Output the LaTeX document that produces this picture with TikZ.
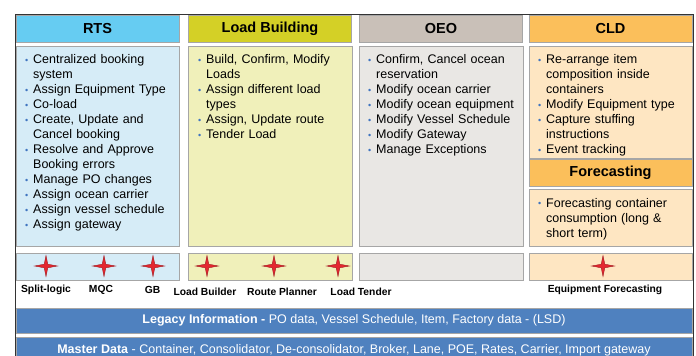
\documentclass[tikz,border=0pt]{standalone}
\usepackage{fontspec}
\setmainfont{Liberation Sans}
\usetikzlibrary{positioning}
\definecolor{rtshead}{HTML}{66CCF2}
\definecolor{rtsbody}{HTML}{D6ECF7}
\definecolor{lbhead}{HTML}{D4D026}
\definecolor{lbbody}{HTML}{F0F0BA}
\definecolor{oeohead}{HTML}{C9C0B8}
\definecolor{oeobody}{HTML}{E9E7E4}
\definecolor{cldhead}{HTML}{FBBF5B}
\definecolor{cldbody}{HTML}{FEE6C2}
\definecolor{barblue}{HTML}{4F81BF}
\definecolor{edgegrey}{HTML}{A6A6A6}
\definecolor{dotblue}{HTML}{3F74C0}
\definecolor{starred}{HTML}{E42730}
\definecolor{stardark}{HTML}{9E1A1F}
\newcommand{\itm}{\par\leftskip=8pt\noindent\llap{\makebox[8pt][l]{\raisebox{0.3pt}{\textcolor{dotblue}{\fontsize{9}{9}\selectfont\textbullet}}}}}
\tikzset{spark/.pic={
  \filldraw[fill=starred,draw=stardark,line width=0.4pt]
    (0,-10.5) -- (1.8,-1.8) -- (11.5,0) -- (1.8,1.8) -- (0,10.5)
    -- (-1.8,1.8) -- (-11.5,0) -- (-1.8,-1.8) -- cycle;}}
\begin{document}
\begin{tikzpicture}[x=1pt,y=-1pt]
    \tikzstyle{head}=[draw=edgegrey, line width=0.8pt, minimum width=163pt, minimum height=27pt, inner sep=0pt, font=\fontsize{14.5}{16}\selectfont\bfseries]
    \tikzstyle{panel}=[draw=edgegrey, line width=0.8pt]
    \tikzstyle{items}=[anchor=north west, inner sep=0pt, text width=165pt, align=left, font=\fontsize{12.5}{15}\selectfont]
    \tikzstyle{tag}=[inner sep=0pt, font=\fontsize{10.3}{12}\selectfont\bfseries]
    \tikzstyle{bar}=[text=white, inner sep=0pt, font=\fontsize{12.5}{15}\selectfont]
    \useasboundingbox (0,0) rectangle (696,356);
    \clip (0,0) rectangle (696,356);
    \fill[white] (0,0) rectangle (696,356);
    \draw[line width=0.9pt, black!80] (15,14) rectangle (693,372);
    % headers
    \node[head, fill=rtshead] (rts) at (97.5,28.5) {RTS};
    \node[head, fill=lbhead] (lb) at (270,28.5) {Load Building};
    \node[head, fill=oeohead] (oeo) at (441,28.5) {OEO};
    \node[head, fill=cldhead] (cld) at (610.5,28.5) {CLD};
    % bodies
    \filldraw[panel, fill=rtsbody] (16,46) rectangle (179,246);
    \filldraw[panel, fill=lbbody] (188,46) rectangle (352,246);
    \filldraw[panel, fill=oeobody] (359,46) rectangle (523,246);
    \filldraw[panel, fill=cldbody] (529,46) rectangle (692,158);
    \node[head, fill=cldhead] (fc) at (610.5,173) {Forecasting};
    \filldraw[panel, fill=cldbody] (529,189) rectangle (692,246);
    \node[items] (rtsl) at (25,48.5) {\itm Centralized booking\newline system
      \itm Assign Equipment Type \itm Co-load
      \itm Create, Update and\newline Cancel booking
      \itm Resolve and Approve\newline Booking errors
      \itm Manage PO changes \itm Assign ocean carrier
      \itm Assign vessel schedule \itm Assign gateway\par};
    \node[items] (lbl) at (198,48.5) {\itm Build, Confirm, Modify\newline Loads
      \itm Assign different load\newline types
      \itm Assign, Update route \itm Tender Load\par};
    \node[items] (oeol) at (368,48.5) {\itm Confirm, Cancel ocean\newline reservation
      \itm Modify ocean carrier \itm Modify ocean equipment
      \itm Modify Vessel Schedule \itm Modify Gateway
      \itm Manage Exceptions\par};
    \node[items] (cldl) at (538,48.5) {\itm Re-arrange item\newline composition inside\newline containers
      \itm Modify Equipment type
      \itm Capture stuffing\newline instructions
      \itm Event tracking\par};
    \node[items] (fcl) at (538,192) {\itm Forecasting container\newline consumption (long \&\newline short term)\par};
    % tool strip
    \filldraw[panel, fill=rtsbody] (16,253) rectangle (179,280);
    \filldraw[panel, fill=lbbody] (188,253) rectangle (352,280);
    \filldraw[panel, fill=oeobody] (359,253) rectangle (523,280);
    \filldraw[panel, fill=cldbody] (529,253) rectangle (692,280);
    \pic (s1) at (46,266) {spark};
    \pic (s2) at (104,266) {spark};
    \pic (s3) at (153,266) {spark};
    \pic (s4) at (207,266) {spark};
    \pic (s5) at (274,266) {spark};
    \pic (s6) at (338,266) {spark};
    \pic (s7) at (603,266) {spark};
    \node[tag] (t1) at (46,290) {Split-logic};
    \node[tag] (t2) at (101,290) {MQC};
    \node[tag] (t3) at (152.5,290) {GB};
    \node[tag] (t4) at (205,292) {Load Builder};
    \node[tag] (t5) at (282,292) {Route Planner};
    \node[tag] (t6) at (361,292) {Load Tender};
    \node[tag] (t7) at (605,290) {Equipment Forecasting};
    % data bars
    \filldraw[fill=barblue, draw=edgegrey, line width=0.8pt] (16,308) rectangle (692,333);
    \filldraw[fill=barblue, draw=edgegrey, line width=0.8pt] (16,337) rectangle (692,372);
    \node[bar] (legacy) at (354,320.5) {\textbf{Legacy Information -} PO data, Vessel Schedule, Item, Factory data - (LSD)};
    \node[bar] (master) at (354,350.5) {\textbf{Master Data} - Container, Consolidator, De-consolidator, Broker, Lane, POE, Rates, Carrier, Import gateway};
    %\draw (rts) -- (legacy);
\end{tikzpicture}
\end{document}
